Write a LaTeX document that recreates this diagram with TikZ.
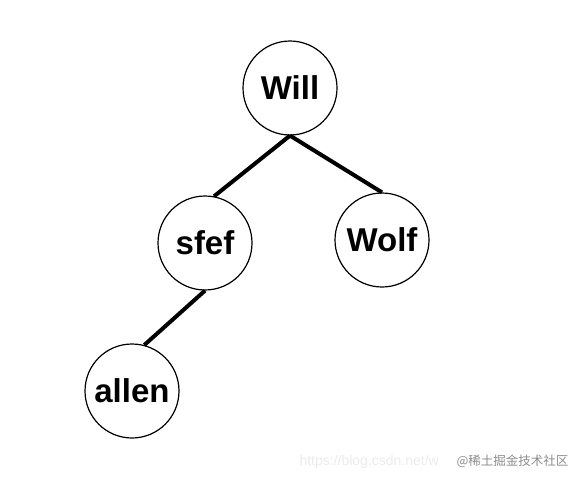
\documentclass[tikz,border=0pt]{standalone}
\usepackage{fontspec}
\setmainfont{Liberation Sans}
\newfontfamily\cjkfont{Noto Sans CJK SC}
\usetikzlibrary{positioning}

\begin{document}
\begin{tikzpicture}[x=1pt,y=-1pt,
    person/.style={draw,circle,line width=1.2pt,minimum size=94pt,inner sep=0pt,
      font=\fontsize{33}{38}\selectfont\bfseries},
    link/.style={line width=4pt}]
    \useasboundingbox (0,0) rectangle (579,482);
    \node[person] (Will) at (290,88) {Will};
    \node[person] (sfef) at (205,243) {sfef};
    \node[person] (Wolf) at (382,240) {Wolf};
    \node[person] (allen) at (132,391) {allen};
%    edges
    \draw[link] (Will.south) -- (sfef.79);
    \draw[link] (Will.south) -- (Wolf.north);
    \draw[link] (sfef.south) -- (allen.75);
%    watermark
    \node[anchor=west,text=black!8,font=\fontsize{14}{16}\selectfont] (url) at (296,462) {https://blog.csdn.net/w};
    \node[anchor=west,text=black!45,font=\cjkfont\fontsize{12.5}{14}\selectfont] (mark) at (453,461) {@稀土掘金技术社区};
\end{tikzpicture}
\end{document}
